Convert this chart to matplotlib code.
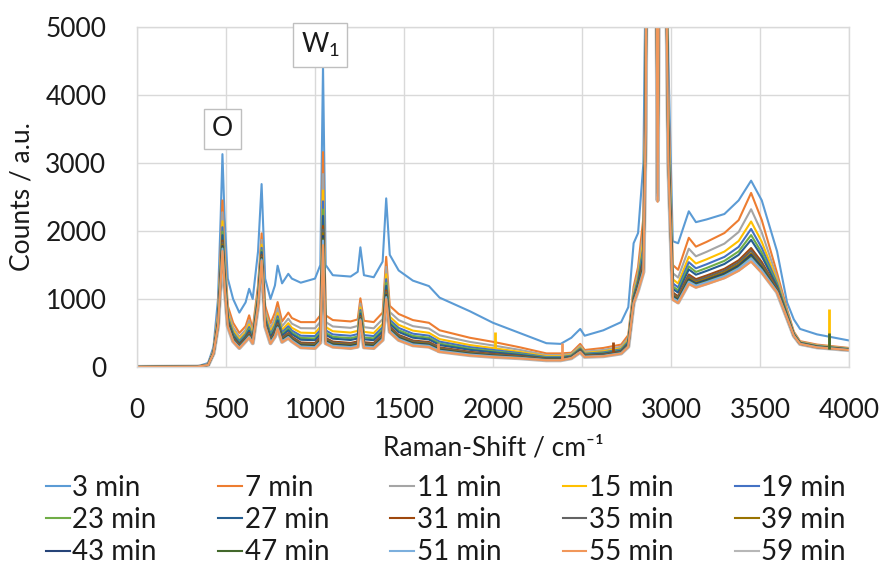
import matplotlib
matplotlib.use("Agg")
import matplotlib.pyplot as plt
from matplotlib.lines import Line2D

plt.rcParams["font.family"] = ["Lato", "DejaVu Sans"]
plt.rcParams["mathtext.fontset"] = "custom"
plt.rcParams["mathtext.rm"] = "Lato"

# Raman shift grid shared by all spectra (cm-1)
shift = [0, 340, 400, 430, 455, 470, 480, 492, 510, 540,
         575, 610, 630, 650, 680, 700, 720, 750, 775, 790,
         815, 850, 870, 920, 1000, 1030, 1045, 1060, 1100, 1200,
         1240, 1255, 1275, 1330, 1380, 1400, 1420, 1470, 1550, 1640,
         1700, 1870, 2000, 2150, 2300, 2380, 2440, 2490, 2515, 2620,
         2720, 2760, 2790, 2815, 2845, 2858, 2872, 2900, 2918, 2925,
         2932, 2950, 2972, 2985, 3010, 3040, 3100, 3140, 3200, 3300,
         3380, 3450, 3510, 3596, 3652, 3690, 3725, 3820, 4000]

min3 = [0, 5, 60, 300, 1000, 2200, 3130, 2200, 1300, 1000,
        800, 950, 1150, 1000, 1700, 2690, 1300, 1000, 1200, 1490,
        1230, 1370, 1300, 1240, 1300, 1500, 4430, 1500, 1350, 1330,
        1400, 1760, 1350, 1320, 1550, 2480, 1650, 1420, 1270, 1190,
        1020, 820, 650, 500, 350, 340, 430, 560, 460, 540,
        660, 880, 1820, 1970, 3000, 6000, 15000, 15000, 8000, 4650,
        8000, 15000, 8000, 4500, 1850, 1820, 2290, 2130, 2170, 2250,
        2450, 2740, 2450, 1700, 950, 700, 560, 480, 390]
min7 = [0, 5, 40, 250, 800, 1700, 2450, 1700, 900, 650,
        500, 600, 760, 560, 1200, 1965, 900, 640, 800, 955,
        670, 800, 720, 660, 660, 760, 3160, 760, 690, 670,
        700, 1010, 680, 660, 800, 1620, 900, 780, 690, 650,
        540, 430, 370, 290, 200, 200, 210, 340, 250, 280,
        330, 470, 1180, 1470, 2200, 4500, 14000, 14000, 7500, 4500,
        7500, 14000, 7000, 4000, 1500, 1430, 1900, 1770, 1840, 1970,
        2160, 2560, 2160, 1380, 850, 520, 380, 330, 280]
min11 = [0, 5, 38, 238, 752, 1592, 2275, 1580, 828, 585,
         447, 547, 683, 510, 1128, 1870, 828, 570, 716, 863,
         598, 711, 638, 571, 569, 664, 2838, 662, 596, 576,
         604, 933, 586, 569, 704, 1474, 809, 689, 601, 566,
         466, 369, 317, 252, 176, 176, 191, 311, 226, 251,
         299, 429, 1122, 1388, 2008, 4260, 13800, 13800, 7140, 4008,
         7140, 13800, 6760, 3760, 1380, 1315, 1740, 1628, 1694, 1814,
         1985, 2320, 1978, 1313, 819, 506, 370, 320, 273]
min15 = [0, 5, 36, 229, 716, 1511, 2143, 1490, 774, 537,
         408, 508, 626, 472, 1074, 1799, 774, 518, 653, 793,
         544, 645, 577, 505, 500, 592, 2597, 588, 526, 506,
         532, 876, 516, 500, 632, 1364, 740, 620, 535, 503,
         410, 323, 278, 223, 158, 158, 176, 290, 208, 230,
         275, 399, 1079, 1327, 1864, 4080, 13600, 13600, 6870, 3639,
         6870, 13600, 6580, 3580, 1290, 1228, 1621, 1522, 1584, 1697,
         1853, 2140, 1841, 1262, 795, 495, 363, 313, 267]
min19 = [0, 5, 35, 223, 692, 1457, 2056, 1430, 738, 504,
         381, 481, 587, 447, 1038, 1752, 738, 483, 611, 747,
         508, 600, 536, 460, 455, 544, 2436, 539, 479, 459,
         484, 837, 469, 455, 584, 1291, 695, 575, 490, 461,
         373, 292, 251, 204, 146, 146, 167, 275, 196, 215,
         260, 378, 1050, 1286, 1768, 3960, 13500, 13500, 6690, 3393,
         6690, 13500, 6460, 3460, 1230, 1171, 1541, 1451, 1511, 1619,
         1766, 2030, 1750, 1229, 780, 488, 358, 308, 264]
min23 = [0, 5, 34, 219, 674, 1417, 1990, 1385, 711, 480,
         361, 461, 558, 428, 1011, 1716, 711, 457, 580, 712,
         481, 567, 506, 427, 421, 508, 2316, 502, 444, 424,
         448, 808, 434, 421, 548, 1236, 661, 541, 457, 430,
         345, 269, 231, 189, 137, 137, 160, 264, 187, 204,
         248, 363, 1029, 1256, 1696, 3870, 13400, 13400, 6555, 3209,
         6555, 13400, 6370, 3370, 1185, 1128, 1481, 1398, 1456, 1561,
         1700, 1940, 1681, 1204, 768, 482, 355, 305, 261]
min27 = [0, 5, 33, 215, 660, 1385, 1939, 1350, 690, 461,
         346, 446, 536, 413, 990, 1689, 690, 437, 555, 686,
         460, 541, 482, 401, 394, 480, 2222, 473, 417, 397,
         420, 786, 407, 394, 520, 1193, 634, 514, 431, 405,
         323, 252, 216, 178, 130, 130, 154, 256, 180, 196,
         239, 351, 1012, 1232, 1640, 3800, 13300, 13300, 6450, 3065,
         6450, 13300, 6300, 3300, 1150, 1094, 1435, 1357, 1413, 1515,
         1649, 1870, 1628, 1184, 759, 478, 352, 302, 259]
min31 = [0, 5, 32, 210, 638, 1336, 1859, 1295, 657, 431,
         322, 422, 501, 390, 957, 1645, 657, 405, 517, 643,
         427, 500, 445, 360, 352, 436, 2075, 428, 374, 354,
         376, 751, 364, 352, 476, 1126, 592, 472, 390, 367,
         289, 223, 192, 160, 119, 119, 145, 243, 169, 183,
         225, 332, 986, 1195, 1552, 3690, 13200, 13200, 6285, 2840,
         6285, 13200, 6190, 3190, 1095, 1041, 1361, 1292, 1346, 1444,
         1569, 1750, 1544, 1153, 745, 471, 348, 298, 256]
min35 = [0, 5, 32, 208, 630, 1318, 1830, 1275, 645, 420,
         313, 413, 488, 382, 945, 1629, 645, 394, 503, 628,
         415, 486, 431, 346, 337, 420, 2021, 412, 359, 339,
         360, 738, 349, 337, 460, 1102, 577, 457, 376, 353,
         277, 213, 183, 154, 115, 115, 142, 238, 165, 178,
         220, 326, 976, 1181, 1520, 3650, 13150, 13150, 6225, 2758,
         6225, 13150, 6150, 3150, 1075, 1022, 1335, 1269, 1322, 1418,
         1540, 1710, 1514, 1142, 740, 469, 346, 296, 255]
min39 = [0, 5, 31, 206, 622, 1300, 1800, 1255, 633, 410,
         304, 404, 475, 373, 933, 1613, 633, 382, 489, 612,
         403, 471, 417, 331, 322, 404, 1967, 395, 343, 323,
         344, 725, 333, 322, 444, 1077, 562, 442, 361, 339,
         264, 203, 174, 148, 111, 111, 139, 233, 161, 173,
         214, 319, 966, 1167, 1488, 3610, 13100, 13100, 6165, 2676,
         6165, 13100, 6110, 3110, 1055, 1003, 1308, 1245, 1297, 1392,
         1510, 1670, 1484, 1131, 734, 467, 344, 294, 253]
min43 = [0, 5, 31, 204, 616, 1286, 1778, 1240, 624, 402,
         298, 398, 466, 367, 924, 1602, 624, 373, 478, 601,
         394, 460, 407, 320, 310, 392, 1927, 383, 331, 311,
         332, 716, 321, 310, 432, 1059, 550, 430, 350, 328,
         255, 195, 168, 143, 108, 108, 136, 230, 158, 170,
         210, 314, 959, 1157, 1464, 3580, 13080, 13080, 6120, 2614,
         6120, 13080, 6080, 3080, 1040, 988, 1288, 1227, 1279, 1372,
         1488, 1650, 1461, 1122, 730, 465, 343, 293, 252]
min47 = [0, 5, 30, 203, 610, 1273, 1757, 1225, 615, 394,
         291, 391, 456, 361, 915, 1590, 615, 365, 468, 589,
         385, 449, 397, 309, 299, 380, 1887, 371, 320, 300,
         320, 706, 310, 299, 420, 1041, 539, 419, 339, 318,
         246, 188, 161, 138, 105, 105, 134, 226, 155, 166,
         207, 309, 952, 1147, 1440, 3550, 13050, 13050, 6075, 2553,
         6075, 13050, 6050, 3050, 1025, 974, 1268, 1210, 1261, 1353,
         1467, 1620, 1438, 1114, 727, 463, 342, 292, 252]
min51 = [0, 5, 30, 202, 606, 1264, 1742, 1215, 609, 388,
         287, 387, 450, 356, 909, 1582, 609, 359, 461, 582,
         379, 441, 390, 301, 291, 372, 1860, 362, 312, 292,
         312, 700, 302, 291, 412, 1028, 531, 411, 331, 311,
         239, 183, 157, 135, 103, 103, 132, 224, 153, 164,
         204, 305, 947, 1140, 1424, 3530, 13030, 13030, 6045, 2512,
         6045, 13030, 6030, 3030, 1015, 964, 1255, 1198, 1248, 1340,
         1452, 1600, 1423, 1108, 724, 462, 341, 291, 251]
min55 = [0, 5, 30, 199, 596, 1241, 1705, 1190, 594, 375,
         276, 376, 434, 346, 894, 1562, 594, 344, 443, 562,
         364, 423, 373, 283, 272, 352, 1793, 342, 292, 272,
         292, 684, 282, 272, 392, 998, 512, 392, 313, 293,
         224, 170, 146, 127, 98, 98, 128, 218, 148, 158,
         197, 297, 935, 1123, 1384, 3480, 12980, 12980, 5970, 2430,
         5970, 12980, 5980, 2980, 990, 940, 1222, 1168, 1218, 1307,
         1415, 1550, 1385, 1095, 717, 458, 338, 288, 249]
min59 = [0, 5, 30, 200, 600, 1250, 1720, 1200, 600, 380,
         280, 380, 440, 350, 900, 1570, 600, 350, 450, 570,
         370, 430, 380, 290, 280, 360, 1820, 350, 300, 280,
         300, 690, 290, 280, 400, 1010, 520, 400, 320, 300,
         230, 175, 150, 130, 100, 100, 130, 220, 150, 160,
         200, 300, 940, 1130, 1400, 3500, 13000, 13000, 6000, 2450,
         6000, 13000, 6000, 3000, 1000, 950, 1235, 1180, 1230, 1320,
         1430, 1570, 1400, 1100, 720, 460, 340, 290, 250]

labels = ["3 min", "7 min", "11 min", "15 min", "19 min",
          "23 min", "27 min", "31 min", "35 min", "39 min",
          "43 min", "47 min", "51 min", "55 min", "59 min"]
spectra = [min3, min7, min11, min15, min19, min23, min27, min31,
           min35, min39, min43, min47, min51, min55, min59]
colors = ["#5B9BD5", "#ED7D31", "#A5A5A5", "#FFC000", "#4472C4",
          "#70AD47", "#255E91", "#9E480E", "#636363", "#997300",
          "#264478", "#43682B", "#7CAFDD", "#F1975A", "#B7B7B7"]

# cosmic-ray spikes: position, bottom, top, spectrum
spike_shift = [1690, 2010, 2385, 2675, 3885, 3885]
spike_low = [225, 280, 100, 215, 290, 270]
spike_high = [360, 520, 350, 370, 850, 500]
spike_label = ["55 min", "15 min", "55 min", "31 min", "15 min", "47 min"]

fig = plt.figure(figsize=(8.84, 5.67), dpi=100)
ax = fig.add_axes([137 / 884, 1 - 367 / 567, 712 / 884, 340 / 567])

for i, (y, lab, c) in enumerate(zip(spectra, labels, colors)):
    if lab == "59 min":
        ax.plot(shift, y, color=c, lw=3.0, zorder=1.5, solid_joinstyle="round")
    else:
        ax.plot(shift, y, color=c, lw=1.5, zorder=2 + i * 0.01,
                solid_joinstyle="round")

for sx, lo, hi, lab in zip(spike_shift, spike_low, spike_high, spike_label):
    ax.vlines(sx, lo, hi, color=colors[labels.index(lab)], lw=2, zorder=3)

ax.set_xlim(0, 4000)
ax.set_ylim(0, 5000)
ax.set_xticks(range(0, 4001, 500))
ax.set_yticks(range(0, 5001, 1000))
ax.grid(True, color="#D9D9D9", lw=1.0, zorder=0)
ax.set_axisbelow(True)
for s in ax.spines.values():
    s.set_color("#D9D9D9")
    s.set_linewidth(1.0)
ax.tick_params(length=0, labelsize=19, colors="#1a1a1a")
ax.tick_params(axis="x", pad=22)
ax.tick_params(axis="y", pad=22)

fig.text(22 / 884, 1 - 197 / 567, "Counts / a.u.", rotation=90,
         ha="center", va="center", fontsize=19, color="#1a1a1a")
fig.text(493 / 884, 1 - 448 / 567, "Raman-Shift / cm\u207b\u00b9",
         ha="center", va="center", fontsize=19, color="#1a1a1a")

box = dict(boxstyle="square,pad=0.3", fc="white", ec="#BFBFBF", lw=1.0)
ax.text(478, 3500, "O", ha="center", va="center", fontsize=19,
        bbox=box, zorder=5, color="#1a1a1a")
ax.text(1028, 4735, r"W$_{\mathregular{1}}$", ha="center", va="center",
        fontsize=19, bbox=box, zorder=5, color="#1a1a1a")

# legend filled row by row
order = [r * 5 + c for c in range(5) for r in range(3)]
handles = [Line2D([], [], color=colors[k], lw=1.5) for k in order]
fig.legend(handles, [labels[k] for k in order], ncol=5, loc="upper left",
           bbox_to_anchor=(46 / 884, 0, 800 / 884, 1 - 475 / 567),
           mode="expand", frameon=False, fontsize=20, handlelength=0.85,
           handletextpad=0.1, labelspacing=0.22, borderaxespad=0,
           borderpad=0, labelcolor="#1a1a1a")

fig.savefig("out.png", dpi=100)
